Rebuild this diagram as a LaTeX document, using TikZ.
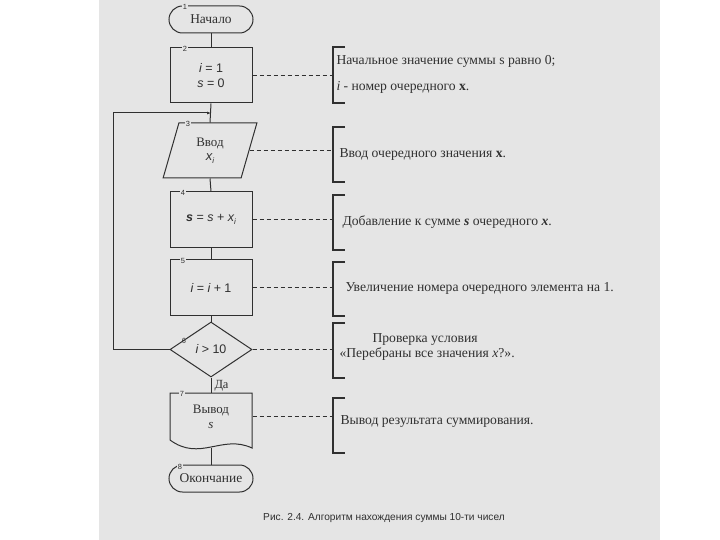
\documentclass[tikz,border=0pt]{standalone}
\usepackage{fontspec}
\setmainfont{Liberation Serif}
\newfontfamily\sansf{Liberation Sans}
\usetikzlibrary{shapes.geometric,arrows.meta}
\definecolor{paper}{RGB}{229,229,229}
\definecolor{ink}{RGB}{48,48,48}
\begin{document}
\begin{tikzpicture}[x=1bp,y=-1bp,line width=1bp,color=ink,
  term/.style={draw,rounded corners=13.5bp,minimum width=84bp,minimum height=27bp,inner sep=0,font=\fontsize{13.5}{15}\selectfont},
  proc/.style={draw,minimum width=82bp,minimum height=55bp,inner sep=0,align=center,font=\sansf\fontsize{12.5}{15}\selectfont},
  iobox/.style={draw,trapezium,trapezium left angle=75,trapezium right angle=105,trapezium stretches=true,minimum width=94bp,minimum height=55bp,inner sep=0,align=center,font=\fontsize{13}{15}\selectfont},
  dec/.style={draw,diamond,minimum width=82bp,minimum height=55bp,inner sep=0,font=\sansf\fontsize{12.5}{14}\selectfont},
  num/.style={fill=paper,inner sep=0.8bp,font=\sansf\fontsize{7.5}{8}\selectfont},
  note/.style={anchor=west,inner sep=0,font=\fontsize{13.7}{15}\selectfont},
  dashln/.style={dash pattern=on 4bp off 3bp,line width=0.9bp},
  brk/.style={line width=1.1bp}]
\fill[white] (0,0) rectangle (720,540);
\fill[paper] (99,0) rectangle (660,540);
\useasboundingbox (0,0) rectangle (720,540);
% shapes
\node[term] (b1) at (211,19.5) {Начало};
\node[proc] (b2) at (211,75.5) {{\itshape i} = 1\\{\itshape s} = 0};
\node[iobox] (b3) at (210,150.5) {Ввод\\{\sansf\itshape x\raisebox{-2.5bp}{\fontsize{8}{8}\selectfont i}}};
\node[proc] (b4) at (211,219.5) {{\bfseries\itshape s} = {\itshape s} + {\itshape x\raisebox{-2.5bp}{\fontsize{8}{8}\selectfont i}}};
\node[proc] (b5) at (211,287.5) {{\itshape i} = {\itshape i} + 1};
\node[dec] (b6) at (211,349.5) {{\itshape i} > 10};
\node[minimum width=82bp,minimum height=47bp,inner sep=0,align=center,font=\fontsize{13}{15}\selectfont] (b7) at (211,416.5) {Вывод\\{\itshape s}};
\draw (170,393) -- (170,440) .. controls (200,462) and (222,434) .. (252,448) -- (252,393) -- cycle;
\coordinate (b7bot) at (211,447.5);
\node[term] (b8) at (211,478.5) {Окончание};
% numbers
\node[num] (n1) at (185,7) {1};
\node[num] (n2) at (185,48.5) {2};
\node[num] (n3) at (188,123.5) {3};
\node[num] (n4) at (183,192.5) {4};
\node[num] (n5) at (183,260.5) {5};
\node[num,fill=none] (n6) at (184,341) {6};
\node[num] (n7) at (182,393.5) {7};
\node[num] (n8) at (180,466.5) {8};
% connectors
\coordinate (loopin) at (211,113);
\draw (b1.south) -- (b2.north);
\draw (b2.south) -- (b3.north);
\draw (b3.south) -- (b4.north);
\draw (b4.south) -- (b5.north);
\draw (b5.south) -- (b6.north);
\draw (b6.south) -- node[anchor=west,inner sep=0,xshift=3bp,yshift=-1bp,font=\fontsize{12.5}{14}\selectfont] (da) {Да} (b7.north);
\draw (b7bot) -- (b8.north);
\draw[-{Latex[length=4bp,width=3bp]}] (b6.west) -- ++(-56,0) |- (loopin);
% brackets
\coordinate (kx) at (333,0);
\foreach \t/\b in {47/103,127/182,195/250,262/316,323/378,398/453}
  \draw[brk] (345,\t) -- (333,\t) -- (333,\b) -- (345,\b);
% dashed leaders
\draw[dashln] (b2.east) -- (b2.east -| kx);
\draw[dashln] (b3.east) -- (b3.east -| kx);
\draw[dashln] (b4.east) -- (b4.east -| kx);
\draw[dashln] (b5.east) -- (b5.east -| kx);
\draw[dashln] (b6.east) -- (b6.east -| kx);
\draw[dashln] (b7.east) -- (b7.east -| kx);
% notes
\node[note] (t1a) at (336,61) {Начальное значение суммы s равно 0;};
\node[note] (t1b) at (336,87) {{\itshape i} - номер очередного {\bfseries x}.};
\node[note] (t2) at (339,154) {Ввод очередного значения {\bfseries x}.};
\node[note] (t3) at (342,222) {Добавление к сумме {\bfseries\itshape s} очередного {\bfseries\itshape x}.};
\node[note] (t4) at (345,288) {Увеличение номера очередного элемента на 1.};
\node[note] (t5a) at (372,340) {Проверка условия};
\node[note] (t5b) at (339,354) {«Перебраны все значения {\itshape x}?».};
\node[note] (t6) at (340,422) {Вывод результата суммирования.};
% caption
\node[font=\sansf\fontsize{10.2}{12}\selectfont,inner sep=0] (cap) at (384,518) {Рис. 2.4. Алгоритм нахождения суммы 10-ти чисел};
\end{tikzpicture}
\end{document}
